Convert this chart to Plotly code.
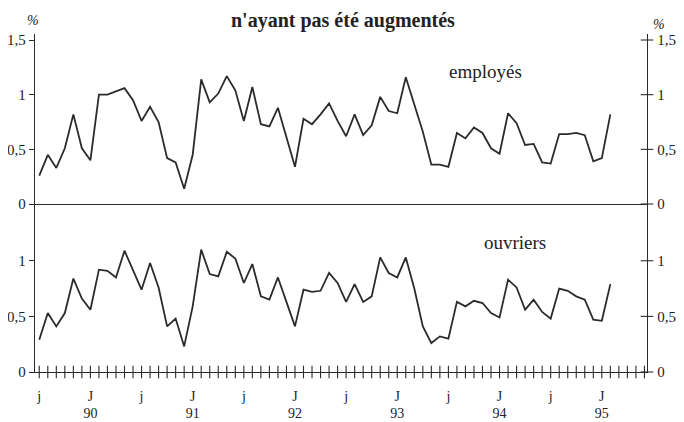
import plotly.graph_objects as go

# Monthly data, July 1989 -> February 1995 (68 months), in %
employes = [0.26, 0.45, 0.33, 0.51, 0.82, 0.51, 0.40, 1.00, 1.00, 1.03,
            1.06, 0.95, 0.76, 0.89, 0.75, 0.42, 0.38, 0.14, 0.45, 1.14,
            0.93, 1.01, 1.17, 1.04, 0.76, 1.07, 0.73, 0.71, 0.88, 0.61,
            0.34, 0.78, 0.73, 0.82, 0.92, 0.76, 0.62, 0.82, 0.63, 0.72,
            0.98, 0.85, 0.83, 1.16, 0.91, 0.66, 0.36, 0.36, 0.34, 0.65,
            0.60, 0.70, 0.65, 0.51, 0.46, 0.83, 0.74, 0.54, 0.55, 0.38,
            0.37, 0.64, 0.64, 0.65, 0.63, 0.39, 0.42, 0.82]

ouvriers = [0.29, 0.53, 0.41, 0.53, 0.84, 0.66, 0.56, 0.92, 0.91, 0.85,
            1.09, 0.91, 0.74, 0.98, 0.76, 0.41, 0.48, 0.23, 0.59, 1.10,
            0.88, 0.86, 1.08, 1.02, 0.80, 0.97, 0.68, 0.65, 0.85, 0.63,
            0.41, 0.74, 0.72, 0.73, 0.89, 0.80, 0.63, 0.79, 0.63, 0.68,
            1.03, 0.89, 0.85, 1.03, 0.75, 0.41, 0.26, 0.32, 0.30, 0.63,
            0.59, 0.64, 0.62, 0.53, 0.49, 0.83, 0.76, 0.56, 0.65, 0.54,
            0.48, 0.75, 0.73, 0.68, 0.65, 0.47, 0.46, 0.79]

# x-axis labels (j = juillet, J = janvier)
month_tick_pos = [0, 6, 12, 18, 24, 30, 36, 42, 48, 54, 60, 66]
month_tick_text = ["j", "J", "j", "J", "j", "J", "j", "J", "j", "J", "j", "J"]
year_tick_pos = [6, 18, 30, 42, 54, 66]
year_tick_text = ["90", "91", "92", "93", "94", "95"]
n_month_ticks = 72

y_top_vals = [0, 0.5, 1, 1.5]
y_top_text = ["0", "0,5", "1", "1,5"]
y_bot_vals = [0, 0.5, 1]
y_bot_text = ["0", "0,5", "1"]

title = "n'ayant pas été augmentés"

months = list(range(len(employes)))
X_RANGE = [-0.5, 71.3]
TOP_RANGE = [0, 1.555]
BOT_RANGE = [0, 1.51]
SPLIT = 0.497

LINE = "#2b2b2b"
FONT = "Liberation Serif"

# page offset (body margin) compensation
OFF = 8
ML, MR, MT, MB = 35 - OFF, 37, 34 - OFF, 50
PW, PH = 612, 338


def px(X):
    return (X - 35) / PW


def py(Y):
    return (372 - Y) / PH


fig = go.Figure()

fig.add_trace(go.Scatter(x=months, y=employes, mode="lines", xaxis="x2", yaxis="y3",
                         line=dict(color=LINE, width=1.8), showlegend=False,
                         hoverinfo="skip"))
fig.add_trace(go.Scatter(x=months, y=ouvriers, mode="lines", xaxis="x", yaxis="y",
                         line=dict(color=LINE, width=1.8), showlegend=False,
                         hoverinfo="skip"))

# monthly crossing ticks on the bottom x-axis
fig.add_trace(go.Scatter(x=list(range(n_month_ticks)), y=[0] * n_month_ticks,
                         mode="markers", xaxis="x3", yaxis="y", cliponaxis=False,
                         marker=dict(symbol="line-ns", size=9,
                                     line=dict(color=LINE, width=1.1)),
                         showlegend=False, hoverinfo="skip"))
# crossing ticks on right axes
fig.add_trace(go.Scatter(x=[X_RANGE[1]] * len(y_top_vals), y=y_top_vals,
                         mode="markers", xaxis="x2", yaxis="y4", cliponaxis=False,
                         marker=dict(symbol="line-ew", size=9,
                                     line=dict(color=LINE, width=1.1)),
                         showlegend=False, hoverinfo="skip"))
fig.add_trace(go.Scatter(x=[X_RANGE[1]] * len(y_bot_vals), y=y_bot_vals,
                         mode="markers", xaxis="x", yaxis="y2", cliponaxis=False,
                         marker=dict(symbol="line-ew", size=9,
                                     line=dict(color=LINE, width=1.1)),
                         showlegend=False, hoverinfo="skip"))

axfont = dict(family=FONT, size=15, color="#222")
common = dict(showgrid=False, zeroline=False, automargin=False,
              linecolor=LINE, linewidth=1.3)

fig.update_layout(
    width=ML + PW + MR, height=MT + PH + MB,
    margin=dict(l=ML, r=MR, t=MT, b=MB, autoexpand=False),
    paper_bgcolor="white", plot_bgcolor="white",
    showlegend=False,
    xaxis=dict(domain=[0, 1], range=X_RANGE, anchor="y", showline=True,
               tickvals=month_tick_pos, ticktext=month_tick_text, ticks="",
               ticklabelstandoff=11,
               tickfont=dict(family=FONT, size=14, color="#222"), **common),
    xaxis3=dict(range=X_RANGE, overlaying="x", anchor="y", side="bottom",
                showline=False, tickvals=year_tick_pos, ticktext=year_tick_text,
                ticks="", ticklabelstandoff=31,
                tickfont=dict(family=FONT, size=14, color="#222"), **common),
    xaxis2=dict(domain=[0, 1], range=X_RANGE, anchor="y3",
                showline=True, showticklabels=False, ticks="", **common),
    yaxis=dict(domain=[0, SPLIT], range=BOT_RANGE, anchor="x", side="left",
               showline=True, tickvals=y_bot_vals, ticktext=y_bot_text,
               ticks="outside", ticklen=5, tickcolor=LINE, tickfont=axfont,
               **common),
    yaxis2=dict(range=BOT_RANGE, overlaying="y", anchor="x", side="right",
                showline=True, tickvals=y_bot_vals, ticktext=y_bot_text,
                ticks="", ticklabelstandoff=6, tickfont=axfont, **common),
    yaxis3=dict(domain=[SPLIT, 1], range=TOP_RANGE, anchor="x2", side="left",
                showline=True, tickvals=y_top_vals, ticktext=y_top_text,
                ticks="outside", ticklen=5, tickcolor=LINE, tickfont=axfont,
                **common),
    yaxis4=dict(range=TOP_RANGE, overlaying="y3", anchor="x2", side="right",
                showline=True, tickvals=y_top_vals, ticktext=y_top_text,
                ticks="", ticklabelstandoff=6, tickfont=axfont, **common),
)

fig.add_annotation(text="<b>" + title + "</b>", xref="paper", yref="paper",
                   x=px(343), y=py(20), xanchor="center", yanchor="middle",
                   showarrow=False, font=dict(family=FONT, size=20, color="#222"))
fig.add_annotation(text="employés", xref="paper", yref="paper",
                   x=px(485), y=py(71), xanchor="center", yanchor="middle",
                   showarrow=False, font=dict(family=FONT, size=19, color="#222"))
fig.add_annotation(text="ouvriers", xref="paper", yref="paper",
                   x=px(515), y=py(243), xanchor="center", yanchor="middle",
                   showarrow=False, font=dict(family=FONT, size=19, color="#222"))
fig.add_annotation(text="<i>%</i>", xref="paper", yref="paper",
                   x=px(33), y=py(21), xanchor="center", yanchor="middle",
                   showarrow=False, font=dict(family=FONT, size=14, color="#222"))
fig.add_annotation(text="<i>%</i>", xref="paper", yref="paper",
                   x=px(659), y=py(24), xanchor="center", yanchor="middle",
                   showarrow=False, font=dict(family=FONT, size=14, color="#222"))

fig.write_html("out.html")
